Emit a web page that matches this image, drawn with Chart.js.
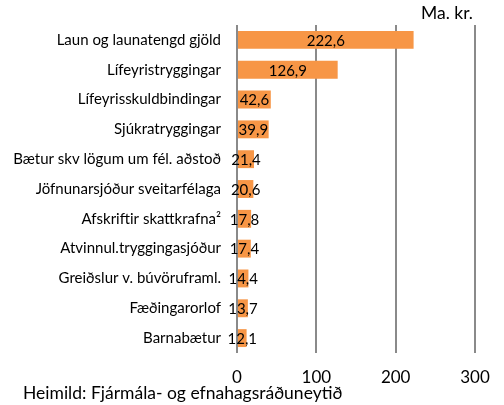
<!DOCTYPE html>
<html>
<head>
<meta charset="utf-8">
<script src="https://cdn.jsdelivr.net/npm/chart.js@4/dist/chart.umd.min.js"></script>
<style>
html,body{margin:0;padding:0;background:#fff;}
#wrap{position:relative;width:504px;height:405px;}
</style>
</head>
<body>
<div id="wrap"><canvas id="c" width="504" height="405"></canvas></div>
<script>
const categories = [
  "Laun og launatengd gjöld",
  "Lífeyristryggingar",
  "Lífeyrisskuldbindingar",
  "Sjúkratryggingar",
  "Bætur skv lögum um fél. aðstoð",
  "Jöfnunarsjóður sveitarfélaga",
  "Afskriftir skattkrafna²",
  "Atvinnul.tryggingasjóður",
  "Greiðslur v. búvöruframl.",
  "Fæðingarorlof",
  "Barnabætur"
];
const values = [222.6, 126.9, 42.6, 39.9, 21.4, 20.6, 17.8, 17.4, 14.4, 13.7, 12.1];
const xTicks = [0, 100, 200, 300];
const unitLabel = "Ma. kr.";
const sourceLabel = "Heimild: Fjármála- og efnahagsráðuneytið";

const FONT = "Lato, 'Open Sans', sans-serif";

const labelPlugin = {
  id: 'valueLabels',
  afterDatasetsDraw(chart) {
    const ctx = chart.ctx;
    const meta = chart.getDatasetMeta(0);
    ctx.save();
    ctx.font = "15px " + FONT;
    ctx.fillStyle = "#000";
    ctx.textAlign = "center";
    ctx.textBaseline = "middle";
    meta.data.forEach((bar, i) => {
      const cx = (bar.x + bar.base) / 2;
      ctx.fillText(values[i].toFixed(1).replace('.', ','), cx, bar.y + 1);
    });
    ctx.font = "17.5px " + FONT;
    ctx.textAlign = "right";
    ctx.fillText(unitLabel, chart.chartArea.right - 2, 13);
    ctx.textAlign = "left";
    ctx.fillText(sourceLabel, 23, 393);
    ctx.restore();
  }
};

new Chart(document.getElementById('c'), {
  type: 'bar',
  data: {
    labels: categories,
    datasets: [{
      data: values,
      backgroundColor: '#F79646',
      borderWidth: 0,
      barPercentage: 0.6,
      categoryPercentage: 1.0
    }]
  },
  options: {
    indexAxis: 'y',
    responsive: false,
    animation: false,
    devicePixelRatio: 1,
    layout: { padding: { top: 23, right: 29, left: 0, bottom: 0 } },
    plugins: { legend: { display: false }, tooltip: { enabled: false } },
    scales: {
      x: {
        min: 0, max: 300,
        afterBuildTicks(scale) { scale.ticks = xTicks.map(v => ({ value: v })); },
        afterFit(scale) { scale.height = 405 - 353; },
        border: { display: false },
        grid: { color: '#8a8a8a', lineWidth: 2, drawTicks: false, tickLength: 0 },
        ticks: { color: '#000', font: { size: 17, family: FONT }, padding: 14 }
      },
      y: {
        afterFit(scale) { scale.width = 237; },
        border: { display: false },
        grid: { display: false, drawTicks: false, tickLength: 0 },
        ticks: { color: '#000', font: { size: 15, family: FONT }, padding: 16, autoSkip: false }
      }
    }
  },
  plugins: [labelPlugin]
});
</script>
</body>
</html>
